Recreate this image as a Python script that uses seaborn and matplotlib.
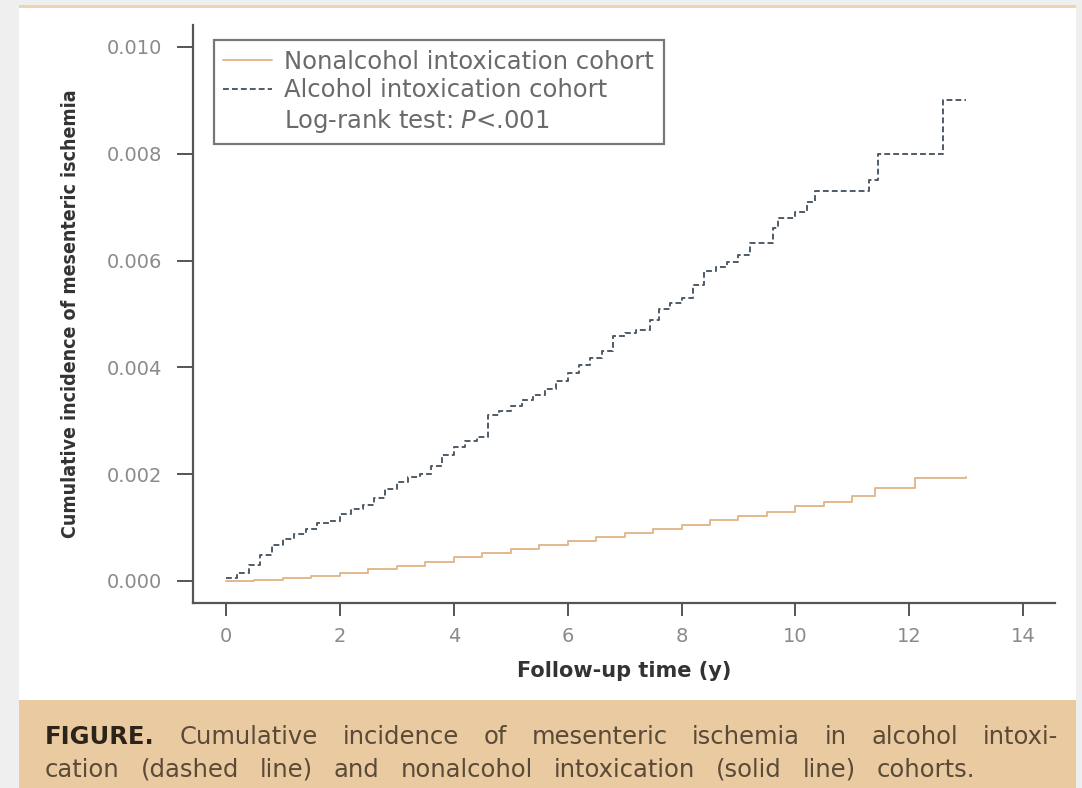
import numpy as np
import pandas as pd
import seaborn as sns
import matplotlib.pyplot as plt
from matplotlib.patches import Rectangle
from matplotlib.lines import Line2D

# Cumulative incidence (change points of the step curves)
alc_time = [0, 0.2, 0.4, 0.6, 0.8, 1.0, 1.2, 1.4, 1.6, 1.8, 2.0, 2.2, 2.4, 2.6, 2.8,
            3.0, 3.2, 3.4, 3.6, 3.8, 4.0, 4.2, 4.4, 4.6, 4.8, 5.0, 5.2, 5.4, 5.6,
            5.8, 6.0, 6.2, 6.4, 6.6, 6.8, 7.0, 7.2, 7.45, 7.6, 7.8, 8.0, 8.2, 8.4,
            8.6, 8.8, 9.0, 9.2, 9.6, 9.7, 10.0, 10.2, 10.35, 11.3, 11.45, 12.6, 13.0]
alc_inc = [0.00005, 0.00015, 0.0003, 0.00048, 0.00068, 0.00078, 0.00088, 0.00098,
           0.00108, 0.00112, 0.00125, 0.00135, 0.00142, 0.00155, 0.00172, 0.00185,
           0.00195, 0.002, 0.00215, 0.00235, 0.0025, 0.00262, 0.0027, 0.0031,
           0.00318, 0.00328, 0.00338, 0.00348, 0.0036, 0.00375, 0.0039, 0.00405,
           0.00418, 0.0043, 0.00458, 0.00465, 0.0047, 0.00488, 0.0051, 0.0052,
           0.0053, 0.00555, 0.0058, 0.00588, 0.00598, 0.0061, 0.00632, 0.0066,
           0.0068, 0.0069, 0.0071, 0.0073, 0.0075, 0.008, 0.009, 0.009]

non_time = [0, 0.5, 1.0, 1.5, 2.0, 2.5, 3.0, 3.5, 4.0, 4.5, 5.0, 5.5, 6.0, 6.5, 7.0,
            7.5, 8.0, 8.5, 9.0, 9.5, 10.0, 10.5, 11.0, 11.4, 12.1, 13.0]
non_inc = [0, 0.00002, 0.00006, 0.0001, 0.00015, 0.00022, 0.00029, 0.00036, 0.00045,
           0.00053, 0.0006, 0.00067, 0.00074, 0.00082, 0.0009, 0.00097, 0.00105,
           0.00115, 0.00122, 0.0013, 0.0014, 0.00148, 0.0016, 0.00175, 0.00193, 0.00195]

x_ticks = [0, 2, 4, 6, 8, 10, 12, 14]
y_ticks = [0.000, 0.002, 0.004, 0.006, 0.008, 0.010]

label_non = "Nonalcohol intoxication cohort"
label_alc = "Alcohol intoxication cohort"
label_test = "Log-rank test: $P$<.001"
caption_lines = [
    "FIGURE. Cumulative incidence of mesenteric ischemia in alcohol intoxi-",
    "cation (dashed line) and nonalcohol intoxication (solid line) cohorts.",
]

sns.set_style("white")
plt.rcParams['font.family'] = ['DejaVu Sans']
plt.rcParams['mathtext.fontset'] = 'dejavusans'

col_alc = "#4f5b66"
col_non = "#e2b98c"
tan = "#eacaa0"

fig = plt.figure(figsize=(10.82, 7.88), dpi=100)
fig.patch.set_facecolor("#efefef")
W, H = 1082, 788
# white panel, tan top rule and caption band (behind the axes)
fig.patches.append(Rectangle((19 / W, 1 - 700 / H), (1076 - 19) / W, (700 - 6) / H,
                             transform=fig.transFigure, facecolor="white", edgecolor="none", zorder=-2))
fig.patches.append(Rectangle((19 / W, 1 - 8 / H), (1076 - 19) / W, 3 / H,
                             transform=fig.transFigure, facecolor="#efd2b0", edgecolor="none", zorder=-2))
fig.patches.append(Rectangle((19 / W, 0), (1076 - 19) / W, 1 - 700 / H,
                             transform=fig.transFigure, facecolor=tan, edgecolor="none", zorder=-2))

ax = fig.add_axes([193 / W, 1 - 603 / H, (1055 - 193) / W, (603 - 25) / H])
ax.set_facecolor("none")

df_non = pd.DataFrame({"time": non_time, "inc": non_inc})
df_alc = pd.DataFrame({"time": alc_time, "inc": alc_inc})
sns.lineplot(data=df_non, x="time", y="inc", ax=ax, color=col_non, lw=1.4,
             drawstyle="steps-post", estimator=None)
sns.lineplot(data=df_alc, x="time", y="inc", ax=ax, color=col_alc, lw=1.4,
             drawstyle="steps-post", estimator=None, dashes=False, linestyle=(0, (3, 1.6)))

ax.set_xlim(-0.58, 14.56)
ax.set_ylim(-0.000412, 0.01041)
ax.set_xticks(x_ticks)
ax.set_yticks(y_ticks)
ax.set_yticklabels([f"{v:.3f}" for v in y_ticks])
for s in ["top", "right"]:
    ax.spines[s].set_visible(False)
for s in ["left", "bottom"]:
    ax.spines[s].set_color("#555555")
    ax.spines[s].set_linewidth(1.6)
ax.tick_params(axis="both", direction="out", bottom=True, left=True, length=9, width=1.4,
               color="#555555", labelsize=14, labelcolor="#8a8a8a", pad=8)
ax.tick_params(axis="y", length=11.5, pad=11)

ax.set_xlabel("Follow-up time (y)", fontsize=15, fontweight="bold", color="#333333", labelpad=11)
ax.set_ylabel("Cumulative incidence of mesenteric ischemia", fontsize=14, fontweight="bold",
              fontstretch="condensed", color="#333333", labelpad=19)

handles = [Line2D([], [], color=col_non, lw=1.4),
           Line2D([], [], color=col_alc, lw=1.4, linestyle=(0, (3, 1.6))),
           Line2D([], [], color="none")]
leg = ax.legend(handles, [label_non, label_alc, label_test], loc="upper left",
                bbox_to_anchor=(0.024, 0.974), borderaxespad=0, fontsize=17.5, frameon=True,
                fancybox=False, handlelength=2.0, handletextpad=0.5, labelspacing=0.18,
                borderpad=0.4, labelcolor="#6a6a6a")
leg.get_frame().set_edgecolor("#555555")
leg.get_frame().set_linewidth(1.6)

# justified caption, placed word by word
renderer = fig.canvas.get_renderer()
line_spans = [(45, 1058, 737), (45, 975, 770)]
for line, (x0, x1, yc) in zip(caption_lines, line_spans):
    words = line.split(" ")
    texts = []
    for w in words:
        bold = (w == "FIGURE.")
        t = fig.text(0, 0, w, fontsize=17.5, fontweight="bold" if bold else "normal",
                     color="#2d2419" if bold else "#5a4a38", va="center", ha="left")
        texts.append(t)
    widths = [t.get_window_extent(renderer).width for t in texts]
    gap = ((x1 - x0) - sum(widths)) / (len(words) - 1)
    x = x0
    for t, w in zip(texts, widths):
        t.set_position((x / W, 1 - yc / H))
        x += w + gap

fig.savefig("out.png", dpi=100)
